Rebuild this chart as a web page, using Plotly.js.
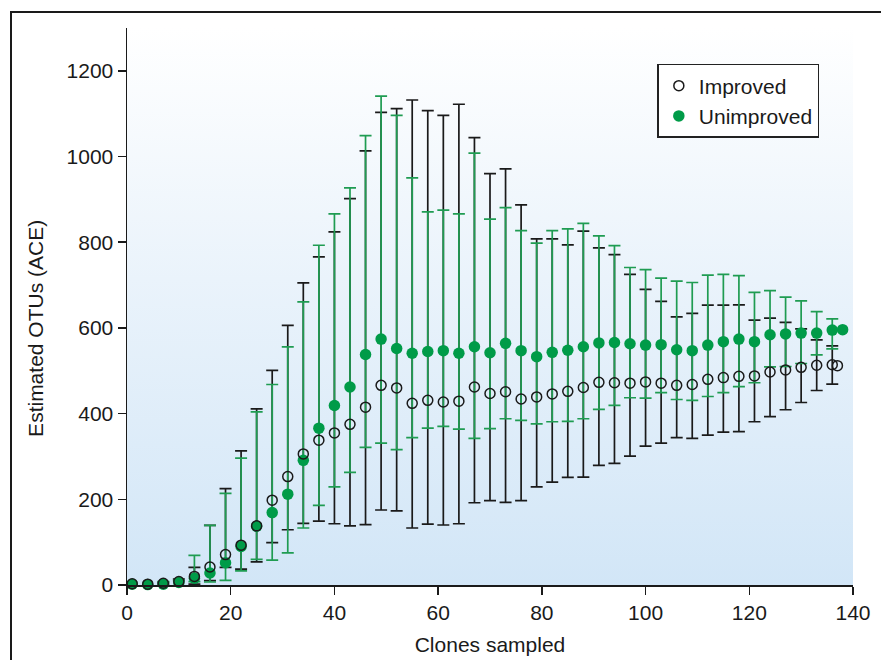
<!DOCTYPE html>
<html>
<head>
<meta charset="utf-8">
<script src="https://cdn.plot.ly/plotly-3.0.1.min.js"></script>
<style>
  html, body { margin: 0; padding: 0; width: 881px; height: 660px; overflow: hidden; background: #ffffff; }
  #frame { position: absolute; left: 10px; top: 11px; width: 1000px; height: 1000px; border: 2px solid #1a1a1a; box-sizing: border-box; }
  #bg { position: absolute; left: 127px; top: 28px; width: 726px; height: 557px;
        background: linear-gradient(to bottom, #ffffff 0%, #eaf3fb 45%, #d2e6f7 100%); }
  #chart { position: absolute; left: 0; top: 0; width: 881px; height: 660px; }
</style>
</head>
<body>
<div id="frame"></div>
<div id="bg"></div>
<div id="chart"></div>
<script>
// ---- data ----
const impX = [1,4,7,10,13,16,19,22,25,28,31,34,37,40,43,46,49,52,55,58,61,64,67,70,73,76,79,82,85,88,91,94,97,100,103,106,109,112,115,118,121,124,127,130,133,136,137];
const impY = [3,2,4,8,20,42,71,93,138,198,253,306,338,355,375,415,466,460,424,431,427,429,462,447,451,434,439,446,452,461,473,472,471,474,471,466,468,480,484,487,488,497,502,508,513,514,512];
const impUpper = [null,null,6,14,41,139,225,313,411,501,606,705,766,824,902,1013,1103,1112,1132,1107,1096,1122,1044,960,971,887,808,808,794,826,787,771,725,690,662,626,634,653,653,654,618,623,613,598,572,558,null];
const impLower = [null,null,2,-17,2,10,41,37,54,99,129,144,149,143,138,141,175,173,133,142,140,143,192,197,193,197,229,240,251,252,279,284,301,324,331,344,342,350,357,358,381,393,409,426,454,469,null];

const unX = [1,4,7,10,13,16,19,22,25,28,31,34,37,40,43,46,49,52,55,58,61,64,67,70,73,76,79,82,85,88,91,94,97,100,103,106,109,112,115,118,121,124,127,130,133,136,138];
const unY = [2,1,2,6,16,28,52,90,137,169,212,291,366,419,462,538,574,552,541,545,547,541,556,542,564,547,533,543,548,556,565,566,563,560,561,549,547,560,568,574,568,584,586,588,588,595,596];
const unUpper = [null,null,8,10,69,139,214,296,404,468,556,661,793,866,927,1049,1141,1096,950,871,875,866,1008,854,881,827,798,827,831,844,815,792,741,736,716,709,706,723,725,722,683,687,672,663,638,621,null];
const unLower = [null,null,-9,-27,8,7,11,33,60,58,75,133,186,229,263,321,331,316,344,366,370,364,342,365,388,384,376,381,382,388,410,419,437,436,449,433,431,440,449,463,472,509,510,517,537,551,null];

const xTicks = [0,20,40,60,80,100,120,140];
const yTicks = [0,200,400,600,800,1000,1200];

const seriesNames = ['Improved', 'Unimproved'];
const xTitle = 'Clones sampled';
const yTitle = 'Estimated OTUs (ACE)';

// ---- helpers ----
function plusArr(ys, up) { return ys.map((y, i) => up[i] == null ? NaN : up[i] - y); }
function minusArr(ys, lo) { return ys.map((y, i) => lo[i] == null ? NaN : y - lo[i]); }

const GREEN = '#009b48';
const GREEN_BAR = '#1f9c52';
const BLACK = '#1a1a1a';
const FONT = 'Liberation Sans, Arial, Helvetica, sans-serif';

const traces = [
  { // improved error bars (drawn first, underneath)
    x: impX, y: impY, type: 'scatter', mode: 'markers', showlegend: false, hoverinfo: 'skip',
    cliponaxis: false,
    marker: { size: 10, color: 'rgba(0,0,0,0)', line: { width: 0 } },
    error_y: { type: 'data', symmetric: false, array: plusArr(impY, impUpper), arrayminus: minusArr(impY, impLower),
               color: BLACK, thickness: 1.7, width: 6 }
  },
  { // unimproved with error bars
    x: unX, y: unY, type: 'scatter', mode: 'markers', name: seriesNames[1], legendrank: 2,
    cliponaxis: false,
    marker: { size: 11.5, color: GREEN, line: { width: 0 } },
    error_y: { type: 'data', symmetric: false, array: plusArr(unY, unUpper), arrayminus: minusArr(unY, unLower),
               color: GREEN_BAR, thickness: 1.7, width: 6 }
  },
  { // improved open circles on top
    x: impX, y: impY, type: 'scatter', mode: 'markers', name: seriesNames[0], legendrank: 1,
    cliponaxis: false,
    marker: { size: 10, symbol: 'circle-open', color: BLACK, line: { width: 1.5, color: BLACK } }
  }
];

const layout = {
  width: 881, height: 660,
  margin: { l: 127, r: 28, t: 28, b: 75 },
  paper_bgcolor: 'rgba(0,0,0,0)',
  plot_bgcolor: 'rgba(0,0,0,0)',
  font: { family: FONT, size: 21, color: BLACK },
  showlegend: true,
  legend: {
    x: 0.7305, y: 0.9354, xanchor: 'left', yanchor: 'top',
    bgcolor: '#ffffff', bordercolor: '#222222', borderwidth: 1.5,
    font: { family: FONT, size: 21, color: BLACK },
    itemwidth: 30, tracegroupgap: 0
  },
  xaxis: {
    range: [0, 140], tickvals: xTicks, ticktext: xTicks.map(String),
    showgrid: false, zeroline: false,
    showline: true, linecolor: BLACK, linewidth: 1.5,
    ticks: 'outside', ticklen: 8, tickwidth: 1.5, tickcolor: BLACK,
    tickfont: { family: FONT, size: 21, color: BLACK },
    title: { text: xTitle, font: { family: FONT, size: 21, color: BLACK }, standoff: 14 }
  },
  yaxis: {
    range: [0, 1300], tickvals: yTicks, ticktext: yTicks.map(String),
    showgrid: false, zeroline: false,
    showline: true, linecolor: BLACK, linewidth: 1.5,
    ticks: 'outside', ticklen: 8, tickwidth: 1.5, tickcolor: BLACK,
    tickfont: { family: FONT, size: 21, color: BLACK }
  },
  annotations: [{
    text: yTitle, textangle: -90, showarrow: false,
    xref: 'paper', x: -0.1254, xanchor: 'center',
    yref: 'y', y: 600, yanchor: 'middle',
    font: { family: FONT, size: 21, color: BLACK }
  }]
};

Plotly.newPlot('chart', traces, layout, { displayModeBar: false, staticPlot: true });
</script>
</body>
</html>
